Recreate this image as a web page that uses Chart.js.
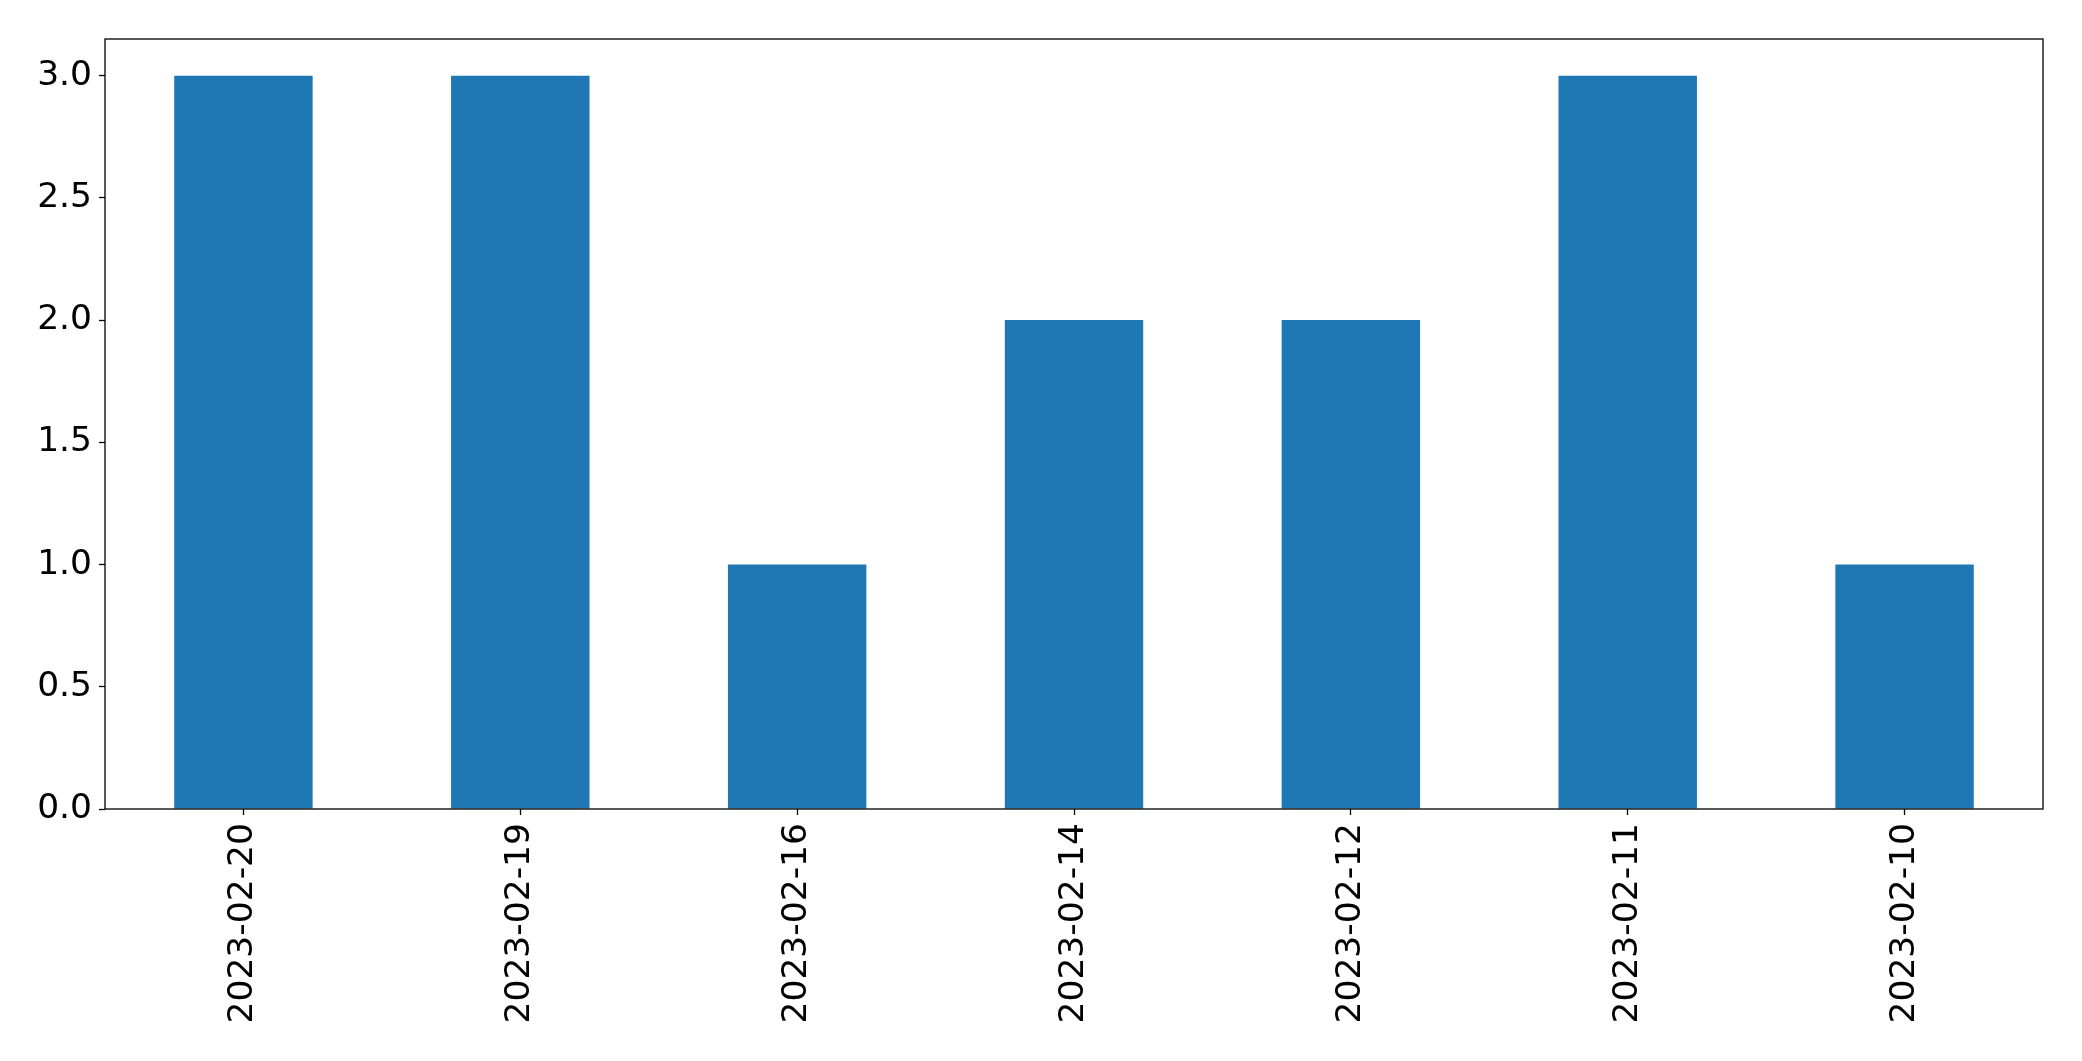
<!DOCTYPE html>
<html>
<head>
<meta charset="utf-8">
<script src="https://cdn.jsdelivr.net/npm/chart.js@4.4.1/dist/chart.umd.min.js"></script>
<style>
    html, body { margin: 0; padding: 0; background: #ffffff; }
    #wrap { width: 2082px; height: 1061px; }
</style>
</head>
<body>
<div id="wrap"><canvas id="myChart" width="2082" height="1061"></canvas></div>
<script>
// Datos
const dates = ['2023-02-20', '2023-02-19', '2023-02-16', '2023-02-14', '2023-02-12', '2023-02-11', '2023-02-10'];
const counts = [3, 3, 1, 2, 2, 3, 1];
const yTicks = [0, 0.5, 1.0, 1.5, 2.0, 2.5, 3.0];

// Marco alrededor del área del gráfico (como matplotlib)
const framePlugin = {
    id: 'frame',
    afterDraw(chart) {
        const a = chart.chartArea;
        const ctx = chart.ctx;
        ctx.save();
        ctx.strokeStyle = '#000000';
        ctx.lineWidth = 1.3;
        ctx.strokeRect(a.left, a.top, a.right - a.left, a.bottom - a.top);
        ctx.restore();
    }
};

const ctx = document.getElementById('myChart').getContext('2d');
const myChart = new Chart(ctx, {
    type: 'bar',
    data: {
        labels: dates,
        datasets: [{
            data: counts,
            backgroundColor: '#1f77b4',
            borderWidth: 0,
            categoryPercentage: 1.0,
            barPercentage: 0.5
        }]
    },
    options: {
        responsive: false,
        animation: false,
        layout: { padding: { left: 0, top: 39, right: 39, bottom: 0 } },
        plugins: {
            legend: { display: false },
            tooltip: { enabled: false }
        },
        scales: {
            x: {
                grid: { offset: false, drawOnChartArea: false, drawTicks: true, tickLength: 6, color: '#000000', tickWidth: 1.3 },
                border: { display: false },
                ticks: {
                    color: '#000000',
                    font: { family: 'DejaVu Sans', size: 34.5 },
                    minRotation: 90,
                    maxRotation: 90,
                    padding: 8,
                    autoSkip: false
                },
                afterFit(scale) { scale.height = 252; }
            },
            y: {
                min: 0,
                max: 3.15,
                grid: { drawOnChartArea: false, drawTicks: true, tickLength: 6, color: '#000000', tickWidth: 1.3 },
                border: { display: false },
                ticks: {
                    color: '#000000',
                    font: { family: 'DejaVu Sans', size: 34.5 },
                    padding: 7,
                    callback: (v) => Number(v).toFixed(1)
                },
                afterBuildTicks(scale) { scale.ticks = yTicks.map(v => ({ value: v })); },
                afterFit(scale) { scale.width = 105; }
            }
        }
    },
    plugins: [framePlugin]
});
</script>
</body>
</html>
